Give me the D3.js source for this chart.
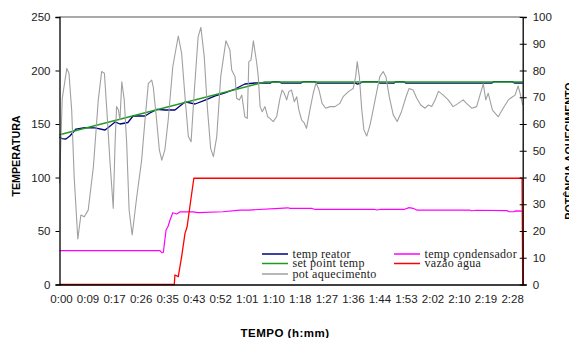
<!DOCTYPE html>
<html>
<head>
<meta charset="utf-8">
<script src="https://cdn.jsdelivr.net/npm/d3@7"></script>
<style>
  body { margin: 0; background: #fff; }
  svg { display: block; }
  .tick-label { font-family: Arial, "Liberation Sans", sans-serif; font-size: 11.5px; fill: #222; }
  .axis-title { font-family: Arial, "Liberation Sans", sans-serif; font-weight: bold; font-size: 10.7px; fill: #000; }
  .legend-text { font-family: "Times New Roman", "Liberation Serif", serif; font-size: 12px; fill: #222; }
</style>
</head>
<body>
<div id="chart"></div>
<script>
// minutes since start
var timeLabels = ['0:00','0:09','0:17','0:26','0:35','0:43','0:52','1:01','1:10',
                  '1:18','1:27','1:36','1:44','1:53','2:02','2:10','2:19','2:28'];
var labelStep = 8.69;   // minutes between labels
var timeEnd = 151.7;

var leftTicks = [0, 50, 100, 150, 200, 250];
var rightTicks = [0, 10, 20, 30, 40, 50, 60, 70, 80, 90, 100];

// [minute, value] (left axis, temperatura)
var tempReator = [[0,137.9],[0.8,136.4],[2.1,136],[3.4,138.8],[5.4,145.3],[8.3,146.7],[11.6,146.3],
  [14.9,144.4],[16.5,148],[18.2,151.9],[19.8,150],[22.4,151.4],[24.1,157.5],[28,157.5],[29.6,160.3],
  [31.9,163.6],[34.5,163.1],[37.8,163.1],[41.1,170.6],[44.4,168.7],[47.7,172.4],[51,176.2],[54.2,179],
  [57.5,182.7],[60.7,187.4],[64,188.3],[69,188.2],[69.8,189.5],[71.8,189.5],[72.8,188.2],[79,188.2],
  [79.8,189.6],[83.5,189.6],[84.5,188.2],[97,188.2],[97.6,187.2],[98.6,188.3],[99.3,189.5],[104.3,189.5],
  [105,188.2],[109.5,188.2],[110.2,189.5],[112.8,189.5],[113.5,188.2],[141.5,188.2],[142.3,189.6],
  [148.3,189.6],[149,188.3],[151.7,188.3]];

var setPoint = [[0,140],[67.3,189.3],[151.7,189.3]];

var tempCondensador = [[0,31.6],[32.9,31.6],[33.5,29.7],[34,29.9],[34.9,50.9],[35.5,54],[36.2,60.3],
  [37.1,67.1],[38.4,65.9],[39.5,68],[43.8,67.8],[45.4,67.1],[53.5,68],[59.1,69.6],[62,69.6],[72,71.2],
  [74.8,71.7],[75.5,71.2],[82.5,71.2],[83.5,70.3],[103,70.3],[104,69.6],[105.3,70.3],[113,70.3],
  [114.5,71.8],[115.8,71.2],[117,69.6],[134.3,69.6],[135,68.9],[136.6,69.4],[146.5,69],[147.3,68],
  [148.8,68.1],[149.5,68.8],[151.7,68.5]];

var vazaoAgua = [[0,0],[37.6,0],[37.8,8.9],[38.9,7.3],[40,26],[41.1,47.8],[41.8,54],[43,79],
  [44,99.3],[151.5,99.3],[151.7,0]];

// [minute, value] (right axis, potência aquecimento)
var potAquecimento = [[0,37.9],[0.9,69.6],[2.4,80.8],[3.1,79],[4,65],[4.8,40.3],[6,17],[7,26],
  [8.1,25.3],[9.4,27.8],[11.1,44],[12.7,69],[13.8,79.6],[14.7,79],[15.5,65.2],[16.5,46.5],[17.6,28.5],
  [18.2,52.9],[18.7,66.5],[19.3,65.2],[19.8,61.5],[20.4,75.8],[21.2,69],[22,52.9],[22.8,27.8],
  [23.8,18.5],[25.3,32.8],[26.9,46.5],[28,61.5],[29.1,75.2],[30.2,76.4],[30.7,73.9],[31.8,61.5],
  [32.7,50.3],[33.5,46.5],[34.5,50.3],[35.6,61.5],[37.1,81.4],[38.9,92.9],[40,86.4],[41.1,70.2],
  [42.2,55.3],[43.1,53.4],[44.1,71.5],[45.4,92.6],[46.3,96.1],[47.4,85.2],[48.4,66.5],[49.5,50.9],
  [50.4,47.8],[51.5,55.3],[52.8,77.7],[54.5,91.1],[55.8,87.7],[56.4,80.2],[57.5,77.7],[58,69.6],
  [58.9,69],[59.7,70.8],[60.7,62.7],[61.5,62.1],[62,83.3],[62.7,83.9],[63.5,91.1],[64.6,82.7],
  [65.1,77.7],[65.7,66.5],[66.4,64.6],[67.3,66.5],[68.2,62.7],[68.9,62.1],[70,60.9],[71.1,62.7],
  [72.2,69.6],[72.9,72.7],[73.6,71.5],[74.4,69],[75.1,72.1],[76,72.7],[76.9,68.3],[77.7,70.2],
  [78.4,65.2],[79.3,61.5],[80.2,60.3],[80.9,58.4],[82,65.2],[83.1,71.5],[84,75.4],[85,72.7],
  [86,67.7],[87.2,65.9],[88.6,66.5],[90.2,66.5],[91.8,67.7],[92.9,70.2],[94.6,72.1],[96.2,73.3],
  [97,77.7],[97.5,83.3],[98.2,77.7],[99,65.2],[99.7,57.8],[100.6,55.5],[101.7,59.6],[102.7,65.2],
  [103.9,72.1],[104.9,77.7],[106,79.6],[106.9,77.7],[108,70.2],[109.3,63.4],[110.6,60.9],[112,64.6],
  [113.5,70.2],[114.5,73.3],[115.8,72.7],[117,69.6],[118.3,67.1],[119.7,65.9],[120.8,67.1],
  [121.9,66.5],[123,69],[124.1,72.2],[125.7,70.8],[127.3,69],[128.9,66.5],[130.6,67.7],[132.2,69],
  [133.3,67.7],[135,65.9],[136.6,66.5],[137.7,70.8],[138.8,75],[139.6,69],[140.4,71.5],[141.8,65.2],
  [143.7,62.7],[145.3,65.9],[147,69],[148.4,70.2],[149.2,70.8],[150.2,74.2],[151,70.8],[151.7,67.1]];

var seriesNames = ['temp reator', 'set point temp', 'pot aquecimento', 'temp condensador', 'vazão água'];
var seriesColors = ['#000080', '#1f9a1f', '#a0a0a0', '#ff00ff', '#ff0000'];

var width = 569, height = 338;
var plotLeft = 59.5, plotRight = 522.7, plotTop = 17, plotBottom = 284.5;

var svg = d3.select('#chart').append('svg')
  .attr('width', width).attr('height', height);

var x = d3.scaleLinear().domain([0, timeEnd]).range([plotLeft, plotRight]);
var yLeft = d3.scaleLinear().domain([0, 250]).range([plotBottom, plotTop]);
var yRight = d3.scaleLinear().domain([0, 100]).range([plotBottom, plotTop]);

var lineLeft = d3.line()
  .x(function(d){return x(d[0])})
  .y(function(d){return yLeft(d[1])});
var lineRight = d3.line()
  .x(function(d){return x(d[0])})
  .y(function(d){return yRight(d[1])});

// frame
svg.append('line')
  .attr('x1', plotLeft).attr('x2', plotRight).attr('y1', plotTop).attr('y2', plotTop)
  .attr('stroke', '#555').attr('stroke-width', 1.2);

// series, in excel drawing order
var draws = [
  {data: tempReator, line: lineLeft, color: seriesColors[0], w: 1.3},
  {data: setPoint, line: lineLeft, color: seriesColors[1], w: 1.4},
  {data: tempCondensador, line: lineLeft, color: seriesColors[3], w: 1.2},
  {data: vazaoAgua, line: lineLeft, color: seriesColors[4], w: 1.3},
  {data: potAquecimento, line: lineRight, color: seriesColors[2], w: 1.1}
];
svg.selectAll('.series')
  .data(draws)
  .enter().append('path')
  .attr('class', 'series')
  .attr('fill', 'none')
  .attr('stroke', function(d){return d.color})
  .attr('stroke-width', function(d){return d.w})
  .attr('stroke-linejoin', 'round')
  .attr('d', function(d){return d.line(d.data)});

// left axis
var axisLeft = d3.axisLeft(yLeft).tickValues(leftTicks).tickSize(4).tickPadding(5);
var gl = svg.append('g').attr('transform', 'translate(' + plotLeft + ',0)').call(axisLeft);
gl.select('.domain').attr('stroke', '#000').attr('stroke-width', 1.3);
gl.selectAll('.tick line').attr('stroke', '#000');
gl.selectAll('.tick text').attr('class', 'tick-label').attr('fill', null);

// right axis, ticks crossing
var axisRight = d3.axisRight(yRight).tickValues(rightTicks).tickSize(4).tickPadding(6);
var gr = svg.append('g').attr('transform', 'translate(' + plotRight + ',0)').call(axisRight);
gr.select('.domain').attr('stroke', '#000').attr('stroke-width', 1.3);
gr.selectAll('.tick line').attr('stroke', '#000').attr('x1', -3);
gr.selectAll('.tick text').attr('class', 'tick-label').attr('fill', null);

// bottom axis, no tick marks
var axisBottom = d3.axisBottom(x)
  .tickValues(timeLabels.map(function(d, i){return i * labelStep}))
  .tickFormat(function(d, i){return timeLabels[i]})
  .tickSize(0).tickPadding(10);
var gb = svg.append('g').attr('transform', 'translate(0,' + plotBottom + ')').call(axisBottom);
gb.select('.domain').attr('stroke', '#000').attr('stroke-width', 1.3);
gb.selectAll('.tick text').attr('class', 'tick-label').attr('fill', null).attr('dx', 1.5);

// axis titles
svg.append('text').attr('class', 'axis-title')
  .attr('transform', 'translate(20,156) rotate(-90)')
  .attr('text-anchor', 'middle')
  .text('TEMPERATURA');
svg.append('text').attr('class', 'axis-title')
  .attr('transform', 'translate(573,151) rotate(-90)')
  .attr('text-anchor', 'middle')
  .text('POTÊNCIA AQUECIMENTO');
svg.append('text').attr('class', 'axis-title')
  .attr('x', 285).attr('y', 336.5)
  .attr('text-anchor', 'middle')
  .style('font-size', '11.5px').style('letter-spacing', '0.5px')
  .text('TEMPO (h:mm)');

// legend
var legendItems = [
  {i: 0, x: 262, y: 254},
  {i: 3, x: 394, y: 254},
  {i: 1, x: 262, y: 263.5},
  {i: 4, x: 394, y: 263.5},
  {i: 2, x: 262, y: 274}
];
var leg = svg.selectAll('.legend')
  .data(legendItems)
  .enter().append('g')
  .attr('class', 'legend');
leg.append('line')
  .attr('x1', function(d){return d.x})
  .attr('x2', function(d){return d.x + 26})
  .attr('y1', function(d){return d.y})
  .attr('y2', function(d){return d.y})
  .attr('stroke', function(d){return seriesColors[d.i]})
  .attr('stroke-width', 1.5);
leg.append('text')
  .attr('class', 'legend-text')
  .attr('x', function(d){return d.x + 30.5})
  .attr('y', function(d){return d.y + 3.5})
  .style('letter-spacing', '0.3px')
  .text(function(d){return seriesNames[d.i]});
</script>
</body>
</html>
